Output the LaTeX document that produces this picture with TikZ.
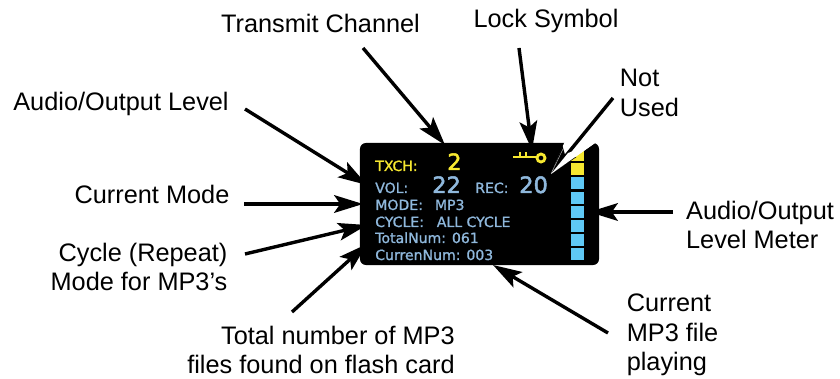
\documentclass[tikz,border=0pt]{standalone}
\usepackage{fontspec}
\setmainfont{Liberation Sans}
\newfontfamily\screenfont[FakeBold=1.2]{DejaVu Sans}
\newfontfamily\bigscreenfont[FakeBold=2.2]{DejaVu Sans}
\usepackage{xcolor}
\usetikzlibrary{arrows.meta}
\definecolor{ScreenBlue}{HTML}{8FB8DC}
\definecolor{ScreenYellow}{HTML}{F7E830}
\definecolor{MeterBlue}{HTML}{5FC8F5}

\tikzset{
    callout/.style={inner sep=0pt, font=\fontsize{18}{21}\selectfont},
    pointer/.style={-{Stealth[length=7.2mm, width=4.4mm, inset=1.5mm]}, line width=0.85mm},
    readout/.style={anchor=base west, inner sep=0pt, text=ScreenBlue, font=\screenfont\fontsize{10}{12}\selectfont},
    bigread/.style={anchor=base west, inner sep=0pt, text=ScreenBlue, font=\bigscreenfont\fontsize{16}{20}\selectfont},
    meterbox/.style={draw=none, minimum width=3.3mm, minimum height=2.9mm, inner sep=0pt},
}

\begin{document}
\begin{tikzpicture}[x=0.025cm, y=-0.025cm]
    \useasboundingbox (0,0) rectangle (840,379);

    % the screen
    \node[fill=black, rounded corners=1.5mm, minimum width=59.75mm, minimum height=30.5mm,
        inner sep=0pt] (Screen) at (479.5,204) {};

    \node[readout, text=ScreenYellow] (TxLabel) at (375,171) {TXCH:};
    \node[bigread, text=ScreenYellow] (TxValue) at (447,170) {2};
    \node[readout] (VolLabel) at (375,193) {VOL:};
    \node[bigread] (VolValue) at (432,193) {22};
    \node[readout] (RecLabel) at (475,193) {REC:};
    \node[bigread] (RecValue) at (519,193) {20};
    \node[readout] (ModeLine) at (375,210) {MODE:\ \ \hspace{2.2pt}MP3};
    \node[readout] (CycleLine) at (375,227) {CYCLE:\ \ \hspace{2.8pt}ALL CYCLE};
    \node[readout] (TotalLine) at (375,243) {TotalNum: 061};
    \node[readout] (CurrenLine) at (375,260) {CurrenNum: 003};

    % level meter
    \foreach \name/\ypos/\col in {M1/155/ScreenYellow, M2/169/ScreenYellow, M3/183/MeterBlue, M4/198/MeterBlue,
                                  M5/212/MeterBlue, M6/226/MeterBlue, M7/240/MeterBlue, M8/254/MeterBlue}
        \node[meterbox, fill=\col] (\name) at (577.5,\ypos) {};

    % key
    \draw[ScreenYellow, line width=0.5mm] (513,157.5) -- (537,157.5);
    \draw[ScreenYellow, line width=0.5mm] (519.5,152) -- (519.5,157.5) (525.5,152) -- (525.5,157.5);
    \draw[ScreenYellow, line width=0.7mm] (541,158) circle (4);

    % cut in the corner
    \fill[white] (551,174) -- (595,143) -- (590,141) -- (565,141) -- cycle;

    % callouts
    \node[callout] (TxText) at (320.5,23) {Transmit Channel};
    \node[callout] (LockText) at (546,21) {Lock Symbol};
    \node[callout, align=left] (NotUsedText) at (649.5,93) {Not\\Used};
    \node[callout] (AudioText) at (121,104) {Audio/Output Level};
    \node[callout] (ModeText) at (152,194) {Current Mode};
    \node[callout, align=right] (CycleText) at (139,267) {Cycle (Repeat)\\Mode for MP3’s};
    \node[callout, align=right] (TotalText) at (321,350) {Total number of MP3\\files found on flash card};
    \node[callout, align=left] (PlayText) at (672.5,335) {Current\\MP3 file\\playing};
    \node[callout, align=left] (MeterText) at (760,225) {Audio/Output\\Level Meter};

    \coordinate (TxTip) at (445,145);
    \coordinate (LockTip) at (532,150);
    \coordinate (NotUsedTip) at (551,174);
    \coordinate (AudioTip) at (367,185);
    \coordinate (ModeTip) at (363,204);
    \coordinate (CycleTip) at (367,225);
    \coordinate (TotalTip) at (367,244);
    \coordinate (MeterTip) at (589,212);
    \coordinate (PlayTip) at (493,265);

    \draw[pointer] (TxText) ++(42.5,25) -- (TxTip);
    \draw[pointer] (LockText) ++(-27,27) -- (LockTip);
    \draw[pointer] (NotUsedText) ++(-36.5,5) -- (NotUsedTip);
    \draw[pointer] (AudioText) ++(124,5) -- (AudioTip);
    \draw[pointer] (ModeText) ++(92,10) -- (ModeTip);
    \draw[pointer] (CycleText) ++(106,-13) -- (CycleTip);
    \draw[pointer] (TotalText) ++(-29,-38) -- (TotalTip);
    \draw[pointer] (MeterText) ++(-87,-13) -- (MeterTip);
    \draw[pointer] (PlayText) ++(-64.5,-2) -- (PlayTip);

    % white band over the head, and its thin other edge
    \fill[white] (NotUsedTip) -- (568,153) -- (595,143) -- cycle;
    \draw[white!75!black, line width=0.1mm] (NotUsedTip) -- +(12,-25);
\end{tikzpicture}
\end{document}
